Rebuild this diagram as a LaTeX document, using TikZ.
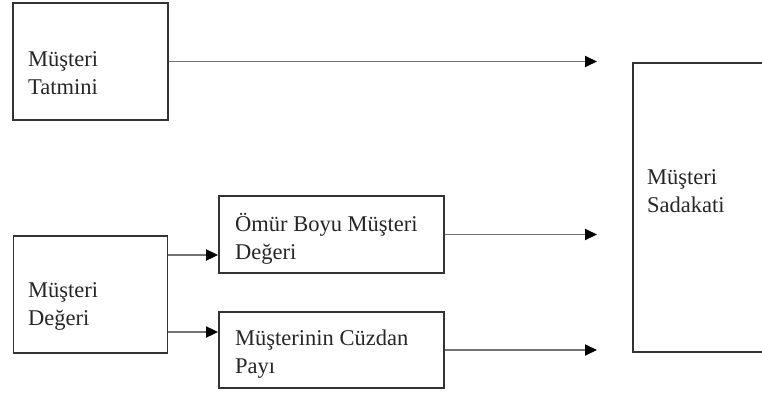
\documentclass[tikz,border=0pt]{standalone}
\usepackage{fontspec}
\setmainfont{Liberation Serif}
\usetikzlibrary{arrows.meta}
\begin{document}
\begin{tikzpicture}[x=1pt,y=-1pt,
  box/.style={draw=black!80,line width=1.8pt,inner sep=0pt,rectangle},
  lbl/.style={anchor=base west,align=left,inner sep=0pt,font=\fontsize{22.5}{28}\selectfont,text=black!85},
  conn/.style={draw=black!55,line width=1.8pt,-{Triangle[length=12pt,width=11pt,color=black]}}
]
\useasboundingbox (0,0) rectangle (762,396);

% boxes
\node[box,minimum width=155pt,minimum height=117pt] (tat) at (90.5,61.5) {};
\node[box,minimum width=154pt,minimum height=117pt] (deg) at (90.5,294.5) {};
\node[box,minimum width=225pt,minimum height=77pt] (omur) at (331.5,234.5) {};
\node[box,minimum width=225pt,minimum height=76pt] (cuz) at (331.5,350) {};
\node[box,minimum width=160pt,minimum height=289pt] (sad) at (713,207.5) {};

% labels (anchored on the baseline of the last line)
\node[lbl] (tatL) at (28,94) {Müşteri\\Tatmini};
\node[lbl] (degL) at (28,325) {Müşteri\\Değeri};
\node[lbl] (omurL) at (235,259) {Ömür Boyu Müşteri\\Değeri};
\node[lbl] (cuzL) at (235,373) {Müşterinin Cüzdan\\Payı};
\node[lbl] (sadL) at (647,212) {Müşteri\\Sadakati};

% connectors
\coordinate (tip) at (597,0);
\coordinate (da) at (0,255);
\coordinate (db) at (0,332);
\draw[conn] (tat.east) -- (tat.east -| tip);
\draw[conn] (omur.east) -- (omur.east -| tip);
\draw[conn] (cuz.east) -- (cuz.east -| tip);
\draw[conn] (deg.east |- da) -- (omur.west |- da);
\draw[conn] (deg.east |- db) -- (cuz.west |- db);
\end{tikzpicture}
\end{document}
